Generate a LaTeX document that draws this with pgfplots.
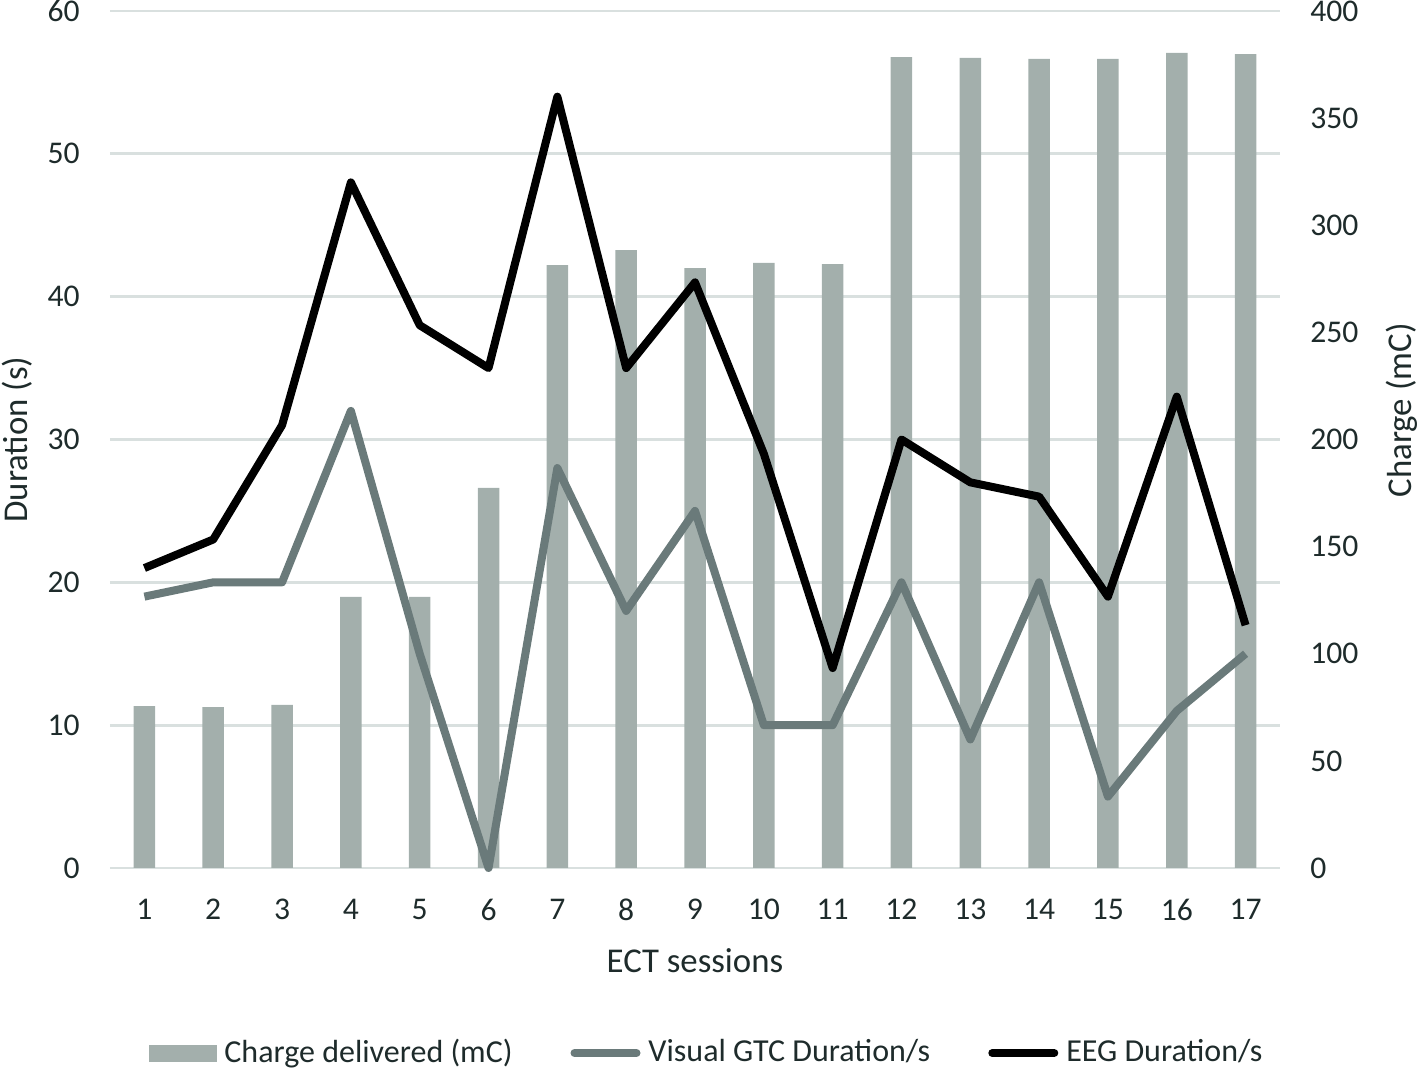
\documentclass[border=0pt]{standalone}
\usepackage{pgfplots}
\pgfplotsset{compat=1.18}
\usepackage{fontspec}
\setmainfont{Carlito}
\definecolor{barc}{HTML}{A3AFAC}
\definecolor{gtc}{HTML}{6A7A7A}
\definecolor{txt}{HTML}{1E2B2B}
\definecolor{gridc}{HTML}{D9E0DF}
\newcommand{\fs}{\fontsize{16bp}{19bp}\selectfont}
\newcommand{\ft}{\fontsize{15.8bp}{19bp}\selectfont}
\newcommand{\fl}{\fontsize{17.4bp}{21bp}\selectfont}
\begin{document}
\fs
\begin{tikzpicture}
\pgfplotsset{
  common/.style={
    width=585bp, height=428.5bp, scale only axis,
    xmin=0.5, xmax=17.5,
    axis line style={draw=none},
    major tick length=0pt, tick style={draw=none},
    /pgf/number format/assume math mode=true,
    ticklabel style={font=\ft, text=txt, inner sep=0pt},
    label style={font=\fl, text=txt, inner sep=0pt},
  }
}
% axis 1: grid, left ticks, x ticks
\begin{axis}[common, name=ax,
  ymin=0, ymax=60, ytick={0,10,...,60},
  ymajorgrids, grid style={gridc, line width=1.4bp},
  xtick={1,...,17},
  xticklabel style={anchor=north, yshift=-15.5bp},
  yticklabel style={anchor=east, xshift=-15bp},
  xlabel={ECT sessions},
  xlabel style={at={(axis description cs:0.5,0)}, anchor=base, yshift=-52bp},
  ylabel={Duration (s)},
  ylabel style={at={(axis description cs:-0.0709,0.5)}, anchor=base, rotate=0},
]
\addplot[draw=none] coordinates {(1,0)};
\end{axis}
% axis 2: bars, right axis
\begin{axis}[common,
  ymin=0, ymax=400, ytick={0,50,...,400},
  axis y line*=right, axis x line=none,
  yticklabel style={anchor=west, xshift=15bp},
  ylabel={Charge (mC)},
  ylabel style={at={(axis description cs:1.1128,0.534)}, anchor=base, rotate=0},
  ybar, bar width=10.75bp,
]
\addplot[fill=barc, draw=none] coordinates {
(1,75.6) (2,75.1) (3,76.1) (4,126.5) (5,126.5) (6,177.4) (7,281.4) (8,288.4)
(9,280.0) (10,282.4) (11,281.9) (12,378.5) (13,378.1) (14,377.6) (15,377.6)
(16,380.4) (17,379.9)};
\end{axis}
% axis 3: lines
\begin{axis}[common,
  ymin=0, ymax=60, hide axis, clip=false,
  legend style={at={(0.5107,-0.2159)}, anchor=center, draw=none, fill=none,
    legend columns=3, font=\fs, text=txt, inner sep=0pt,
    /tikz/every odd column/.append style={column sep=2bp},
    /tikz/every even column/.append style={column sep=27bp}},
  legend cell align=left,
]
\addlegendimage{legend image code/.code={\fill[barc] (0bp,-4bp) rectangle (33.5bp,4bp);}}
\addlegendentry{Charge delivered (mC)}
\addplot[gtc, line width=4bp, line join=round,
  legend image code/.code={\draw[gtc, line width=4bp, line cap=round] (2bp,0bp) -- (33bp,0bp);}] coordinates {
(1,19) (2,20) (3,20) (4,32) (5,15) (6,0) (7,28) (8,18) (9,25) (10,10)
(11,10) (12,20) (13,9) (14,20) (15,5) (16,11) (17,15)};
\addlegendentry{Visual GTC Duration/s}
\addplot[black, line width=4bp, line join=round,
  legend image code/.code={\draw[black, line width=4bp, line cap=round] (2bp,0bp) -- (33bp,0bp);}] coordinates {
(1,21) (2,23) (3,31) (4,48) (5,38) (6,35) (7,54) (8,35) (9,41) (10,29)
(11,14) (12,30) (13,27) (14,26) (15,19) (16,33) (17,17)};
\addlegendentry{EEG Duration/s}
\end{axis}
\pgfresetboundingbox
\path[use as bounding box] ([xshift=-55bp,yshift=-100.5bp]ax.south west) rectangle ([xshift=69bp,yshift=5.5bp]ax.north east);
\end{tikzpicture}
\end{document}
